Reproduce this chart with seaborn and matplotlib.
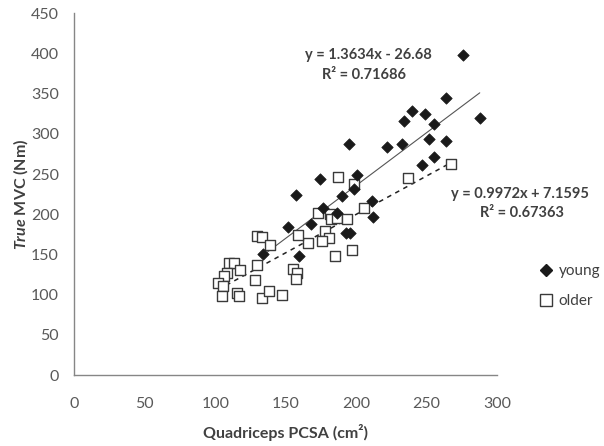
import matplotlib
matplotlib.use("Agg")
import matplotlib.pyplot as plt
import seaborn as sns
import pandas as pd
from matplotlib.lines import Line2D

# ---- data ----
young_x = [275.9, 287.7, 264.1, 264.1, 248.7, 255.3, 239.7, 234.0, 251.6, 232.6,
           221.6, 255.3, 246.8, 195.0, 200.7, 198.6, 174.3, 190.2, 211.3, 157.2,
           176.6, 186.7, 211.6, 167.7, 151.8, 192.9, 195.5, 134.0, 159.6]
young_y = [398.4, 320.3, 345.2, 291.7, 324.9, 312.5, 329.0, 316.6, 293.4, 287.2,
           284.2, 271.8, 261.4, 287.2, 249.0, 231.5, 244.0, 222.8, 217.0, 224.1,
           207.5, 202.0, 196.1, 188.0, 184.2, 176.4, 176.4, 150.3, 148.1]

older_x = [267.2, 236.9, 187.2, 198.4, 205.5, 172.6, 181.1, 181.8, 186.3, 193.8,
           178.2, 180.4, 175.5, 166.0, 158.9, 185.1, 197.2, 129.8, 133.5, 138.8,
           129.4, 128.0, 155.3, 157.7, 157.4, 109.6, 113.1, 117.5, 108.4, 106.5,
           102.1, 105.5, 105.1, 115.4, 116.9, 132.9, 138.3, 147.1]
older_y = [262.3, 245.2, 246.9, 238.1, 207.5, 202.0, 200.4, 193.8, 195.8, 193.6,
           179.0, 170.2, 166.8, 164.9, 174.7, 148.4, 155.0, 173.4, 172.2, 161.8,
           136.9, 118.3, 131.6, 127.6, 119.3, 139.8, 139.8, 131.1, 127.0, 123.5,
           114.5, 111.2, 98.6, 102.5, 98.6, 96.2, 104.8, 99.8]

groups = ["young", "older"]
eq_young = ["y = 1.3634x - 26.68", "R² = 0.71686"]
eq_older = ["y = 0.9972x + 7.1595", "R² = 0.67363"]
x_ticks = [0, 50, 100, 150, 200, 250, 300]
y_ticks = [0, 50, 100, 150, 200, 250, 300, 350, 400, 450]

df_y = pd.DataFrame({"x": young_x, "y": young_y})
df_o = pd.DataFrame({"x": older_x, "y": older_y})

sns.set_style("white")
plt.rcParams["font.family"] = ["Lato", "DejaVu Sans"]
plt.rcParams["mathtext.fontset"] = "custom"
plt.rcParams["mathtext.it"] = "Lato:italic:bold"
plt.rcParams["mathtext.rm"] = "Lato:bold"
plt.rcParams["mathtext.bf"] = "Lato:bold"

fig = plt.figure(figsize=(6.04, 4.46), dpi=100)
ax = fig.add_axes([0.123, 0.159, 0.700, 0.811])

txt = "#404040"
axc = "#868686"

# regression lines
sns.regplot(data=df_y, x="x", y="y", ax=ax, scatter=False, ci=None, truncate=True,
            line_kws=dict(color="#555555", lw=0.8, ls="-"))
sns.regplot(data=df_o, x="x", y="y", ax=ax, scatter=False, ci=None, truncate=True,
            line_kws=dict(color="#222222", lw=1.1, ls=(0, (3, 3))))

# markers
sns.scatterplot(data=df_o, x="x", y="y", ax=ax, marker="s", s=62,
                facecolor="white", edgecolor="#3a3a3a", linewidth=1.0, zorder=3)
sns.scatterplot(data=df_y, x="x", y="y", ax=ax, marker="D", s=34,
                color="#1a1a1a", edgecolor="#1a1a1a", linewidth=0.5, zorder=4)

ax.set_xlim(0, 300)
ax.set_ylim(0, 450)
ax.set_xticks(x_ticks)
ax.set_yticks(y_ticks)
ax.set_xticklabels([str(v) for v in x_ticks])
ax.set_yticklabels([str(v) for v in y_ticks])

for side in ["top", "right"]:
    ax.spines[side].set_visible(False)
for side in ["left", "bottom"]:
    ax.spines[side].set_color(axc)
    ax.spines[side].set_linewidth(1.0)
ax.tick_params(axis="both", direction="out", length=5, width=1.0, color=axc,
               labelsize=11.5, labelcolor="#595959")
ax.tick_params(axis="x", pad=11)
ax.tick_params(axis="y", pad=6)

ax.set_xlabel("Quadriceps PCSA (cm²)", fontsize=11.5, fontweight="bold",
              color=txt)
ax.set_ylabel(r"$\mathit{True}$ MVC (Nm)", fontsize=11.5, fontweight="bold",
              color=txt)
ax.xaxis.set_label_coords(0.5, -(432 - 375) / (0.811 * 446), transform=ax.transAxes)
ax.yaxis.set_label_coords(-(74.3 - 21) / (0.700 * 604), 0.5, transform=ax.transAxes)
ax.xaxis.label.set_va("center")
ax.yaxis.label.set_va("center")

# equation annotations
ax.text(208.5, 398, eq_young[0], ha="center", va="center", fontsize=10.5,
        fontweight="bold", color=txt)
ax.text(205.5, 373, eq_young[1], ha="center", va="center", fontsize=10.5,
        fontweight="bold", color=txt)
fig.text(520 / 604, 1 - 194 / 446, eq_older[0], ha="center", va="center",
         fontsize=10.5, fontweight="bold", color=txt)
fig.text(522 / 604, 1 - 213 / 446, eq_older[1], ha="center", va="center",
         fontsize=10.5, fontweight="bold", color=txt)

handles = [
    Line2D([], [], ls="none", marker="D", markersize=6, color="#1a1a1a"),
    Line2D([], [], ls="none", marker="s", markersize=8, markerfacecolor="white",
           markeredgecolor="#3a3a3a", markeredgewidth=1.0),
]
fig.legend(handles, groups, loc="upper left", bbox_to_anchor=(538 / 604, 1 - 264 / 446),
           frameon=False, fontsize=11, labelspacing=1.05, handlelength=1.0,
           handletextpad=0.35, borderaxespad=0, borderpad=0,
           labelcolor=txt)

fig.savefig("out.png", dpi=100)
